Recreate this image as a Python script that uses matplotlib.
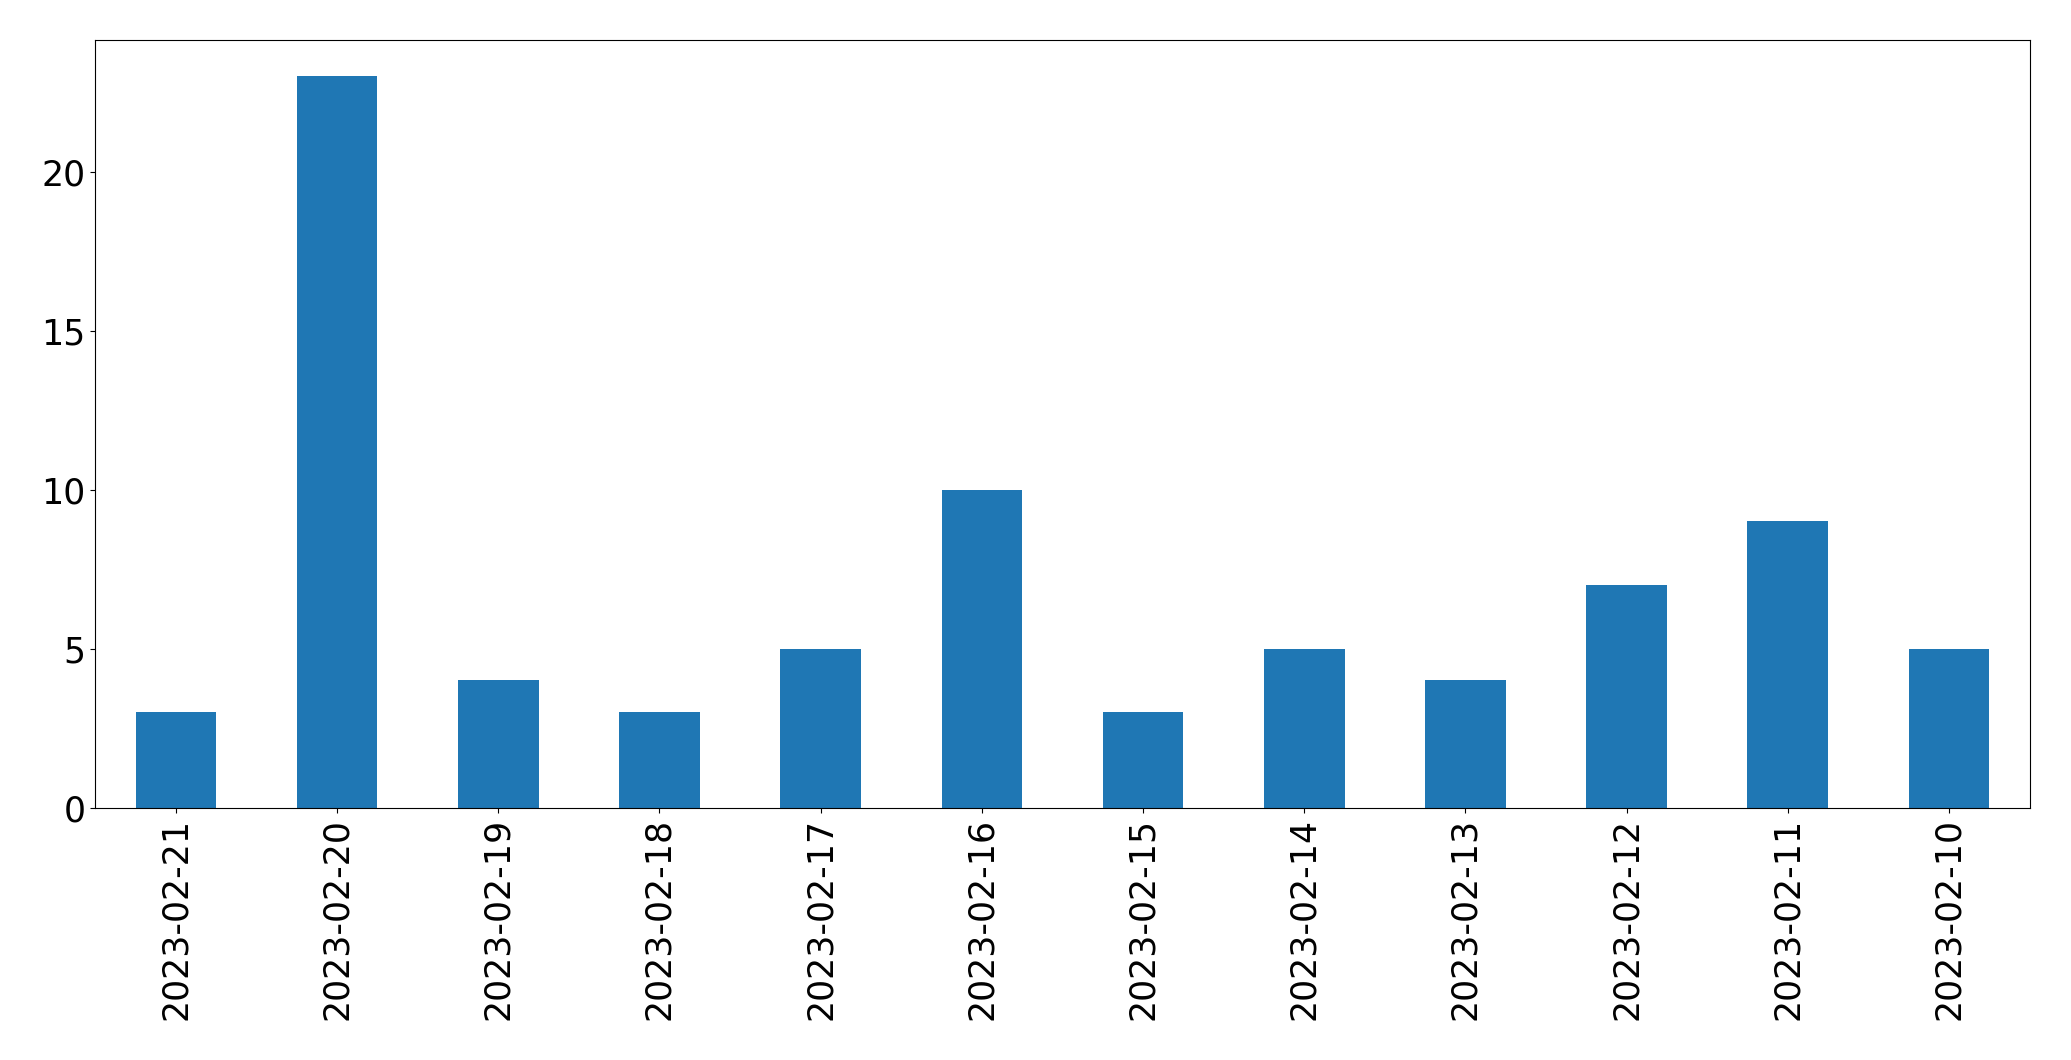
import numpy as np
import matplotlib.pyplot as plt

# Datos
fechas = ['2023-02-21', '2023-02-20', '2023-02-19', '2023-02-18', '2023-02-17', '2023-02-16',
          '2023-02-15', '2023-02-14', '2023-02-13', '2023-02-12', '2023-02-11', '2023-02-10']
conteos = [3, 23, 4, 3, 5, 10, 3, 5, 4, 7, 9, 5]

fig, ax = plt.subplots(figsize=(20.71, 10.605), dpi=100)
fig.subplots_adjust(left=0.046, right=0.980, top=0.962, bottom=0.238)

x = np.arange(len(fechas))
ax.bar(x, conteos, width=0.5, color='#1f77b4')
ax.set_xlim(-0.5, len(fechas) - 0.5)
ax.set_ylim(0, max(conteos) * 1.05)
ax.set_xticks(x)
ax.set_xticklabels(fechas, rotation=90)
ax.set_yticks([0, 5, 10, 15, 20])
ax.tick_params(axis='both', labelsize=25)

fig.savefig('out.png', dpi=100)
